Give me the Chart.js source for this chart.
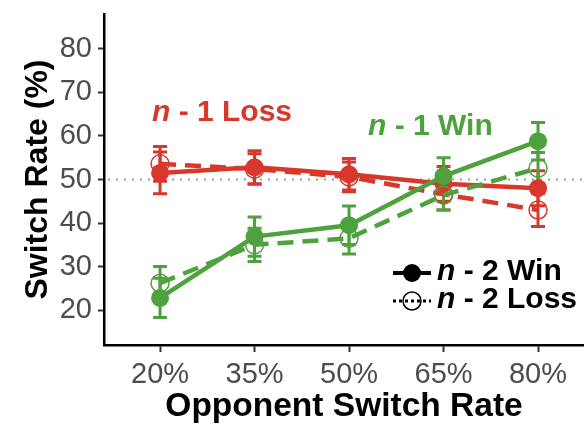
<!DOCTYPE html>
<html>
<head>
<meta charset="utf-8">
<script src="https://cdn.jsdelivr.net/npm/chart.js@4.4.1/dist/chart.umd.min.js"></script>
<style>
  html, body { margin: 0; padding: 0; background: #fff; overflow: hidden; }
  #wrap { width: 584px; height: 427px; }
</style>
</head>
<body>
<div id="wrap"><canvas id="switchChart"></canvas></div>
<script>
// opponent switch rate conditions (%)
const opponentRates = [20, 35, 50, 65, 80];
const yTicks = [20, 30, 40, 50, 60, 70, 80];

// n-1 Loss
const lossAfterWin = [51.5, 52.8, 51.2, 49.0, 48.0];
const lossAfterWinErr = [4.8, 3.8, 3.6, 4.0, 4.0];
const lossAfterLoss = [53.6, 52.4, 50.6, 46.6, 43.0];
const lossAfterLossErr = [4.0, 3.5, 3.4, 3.6, 3.8];
// n-1 Win
const winAfterWin = [22.8, 36.9, 39.5, 50.8, 58.8];
const winAfterWinErr = [4.5, 4.5, 4.4, 4.2, 4.3];
const winAfterLoss = [26.2, 35.0, 36.5, 46.4, 52.6];
const winAfterLossErr = [3.8, 3.8, 3.6, 3.4, 3.6];

const RED = '#d8382c';
const GREEN = '#4ea23e';
const FONT = '"Liberation Sans", Arial, Helvetica, sans-serif';

Chart.defaults.font.family = FONT;

function points(values) {
  return values.map((v, i) => ({ x: opponentRates[i], y: v }));
}

function series(values, errors, color, dashed) {
  return {
    data: points(values),
    errors: errors,
    borderColor: color,
    borderWidth: 4.5,
    borderDash: dashed ? [16, 9] : [],
    pointRadius: 9,
    pointBorderWidth: dashed ? 1.5 : 0,
    pointBorderColor: color,
    pointBackgroundColor: dashed ? 'rgba(255,255,255,0)' : color,
    fill: false,
    tension: 0
  };
}

// dotted 50% line + error bars, drawn under the lines
const errorBars = {
  id: 'errorBars',
  beforeDatasetsDraw(chart) {
    const { ctx, chartArea, scales: { x, y } } = chart;
    ctx.save();
    ctx.strokeStyle = '#9a9a9a';
    ctx.lineWidth = 2;
    ctx.setLineDash([2, 6]);
    const y50 = y.getPixelForValue(50);
    ctx.beginPath();
    ctx.moveTo(chartArea.left + 4, y50);
    ctx.lineTo(chartArea.right, y50);
    ctx.stroke();
    ctx.setLineDash([]);

    chart.data.datasets.slice().reverse().forEach(ds => {
      ctx.strokeStyle = ds.borderColor;
      ctx.lineWidth = 3;
      ds.data.forEach((p, i) => {
        const px = x.getPixelForValue(p.x);
        const top = y.getPixelForValue(p.y + ds.errors[i]);
        const bot = y.getPixelForValue(p.y - ds.errors[i]);
        ctx.beginPath();
        ctx.moveTo(px, top); ctx.lineTo(px, bot);
        ctx.moveTo(px - 7, top); ctx.lineTo(px + 7, top);
        ctx.moveTo(px - 7, bot); ctx.lineTo(px + 7, bot);
        ctx.stroke();
      });
    });
    ctx.restore();
  }
};

function label(ctx, x, y, rest, color, size) {
  ctx.fillStyle = color;
  ctx.textBaseline = 'middle';
  ctx.textAlign = 'left';
  ctx.font = `italic bold ${size}px ${FONT}`;
  ctx.fillText('n', x, y);
  const w = ctx.measureText('n').width;
  ctx.font = `bold ${size}px ${FONT}`;
  ctx.fillText(rest, x + w, y);
}

// group labels and the n-2 legend
const annotations = {
  id: 'annotations',
  afterDraw(chart) {
    const { ctx } = chart;
    ctx.save();
    label(ctx, 152, 113, ' - 1 Loss', RED, 30);
    label(ctx, 368, 127, ' - 1 Win', GREEN, 30);

    // legend: n-2 Win
    ctx.strokeStyle = '#000';
    ctx.lineWidth = 4;
    ctx.beginPath();
    ctx.moveTo(393, 273); ctx.lineTo(431, 273);
    ctx.stroke();
    ctx.fillStyle = '#000';
    ctx.beginPath();
    ctx.arc(412, 273, 9, 0, Math.PI * 2);
    ctx.fill();
    label(ctx, 437, 272, ' - 2 Win', '#000', 30);

    // legend: n-2 Loss
    ctx.lineWidth = 3;
    ctx.setLineDash([3, 3]);
    ctx.beginPath();
    ctx.moveTo(393, 301); ctx.lineTo(431, 301);
    ctx.stroke();
    ctx.setLineDash([]);
    ctx.lineWidth = 1.5;
    ctx.beginPath();
    ctx.arc(412, 301, 9, 0, Math.PI * 2);
    ctx.stroke();
    label(ctx, 437, 300, ' - 2 Loss', '#000', 30);
    ctx.restore();
  }
};

const ctx = document.getElementById('switchChart').getContext('2d');

const switchChart = new Chart(ctx, {
  type: 'line',
  data: {
    datasets: [
      series(winAfterWin, winAfterWinErr, GREEN, false),
      series(winAfterLoss, winAfterLossErr, GREEN, true),
      series(lossAfterWin, lossAfterWinErr, RED, false),
      series(lossAfterLoss, lossAfterLossErr, RED, true)
    ]
  },
  options: {
    responsive: true,
    maintainAspectRatio: false,
    animation: false,
    layout: { autoPadding: false, padding: { top: 14, left: 0, right: 0, bottom: 0 } },
    scales: {
      x: {
        type: 'linear',
        min: 11.1,
        max: 87.3,
        afterBuildTicks: scale => {
          scale.ticks = opponentRates.map(v => ({ value: v }));
        },
        afterFit: scale => {
          scale.height = 82;
          scale.paddingLeft = 0;
          scale.paddingRight = 0;
        },
        ticks: {
          color: '#4d4d4d',
          font: { size: 29 },
          padding: 6,
          maxRotation: 0,
          callback: v => v + '%'
        },
        grid: { drawOnChartArea: false, drawTicks: true, tickLength: 7, tickWidth: 2, tickColor: '#333' },
        border: { display: true, color: '#000', width: 2.5 },
        title: {
          display: true,
          text: 'Opponent Switch Rate',
          color: '#000',
          font: { size: 33.5, weight: 'bold' },
          padding: { top: 0, bottom: 0 }
        }
      },
      y: {
        min: 12,
        max: 88,
        afterBuildTicks: scale => {
          scale.ticks = yTicks.map(v => ({ value: v }));
        },
        afterFit: scale => {
          scale.width = 104;
          scale.paddingTop = 0;
          scale.paddingBottom = 0;
        },
        ticks: {
          color: '#4d4d4d',
          font: { size: 29 },
          padding: 6
        },
        grid: { drawOnChartArea: false, drawTicks: true, tickLength: 6, tickWidth: 2, tickColor: '#333' },
        border: { display: true, color: '#000', width: 2.5 },
        title: {
          display: true,
          text: 'Switch Rate (%)',
          color: '#000',
          font: { size: 32, weight: 'bold' },
          padding: { top: 19 }
        }
      }
    },
    plugins: {
      legend: { display: false },
      tooltip: { enabled: false }
    }
  },
  plugins: [errorBars, annotations]
});
</script>
</body>
</html>
